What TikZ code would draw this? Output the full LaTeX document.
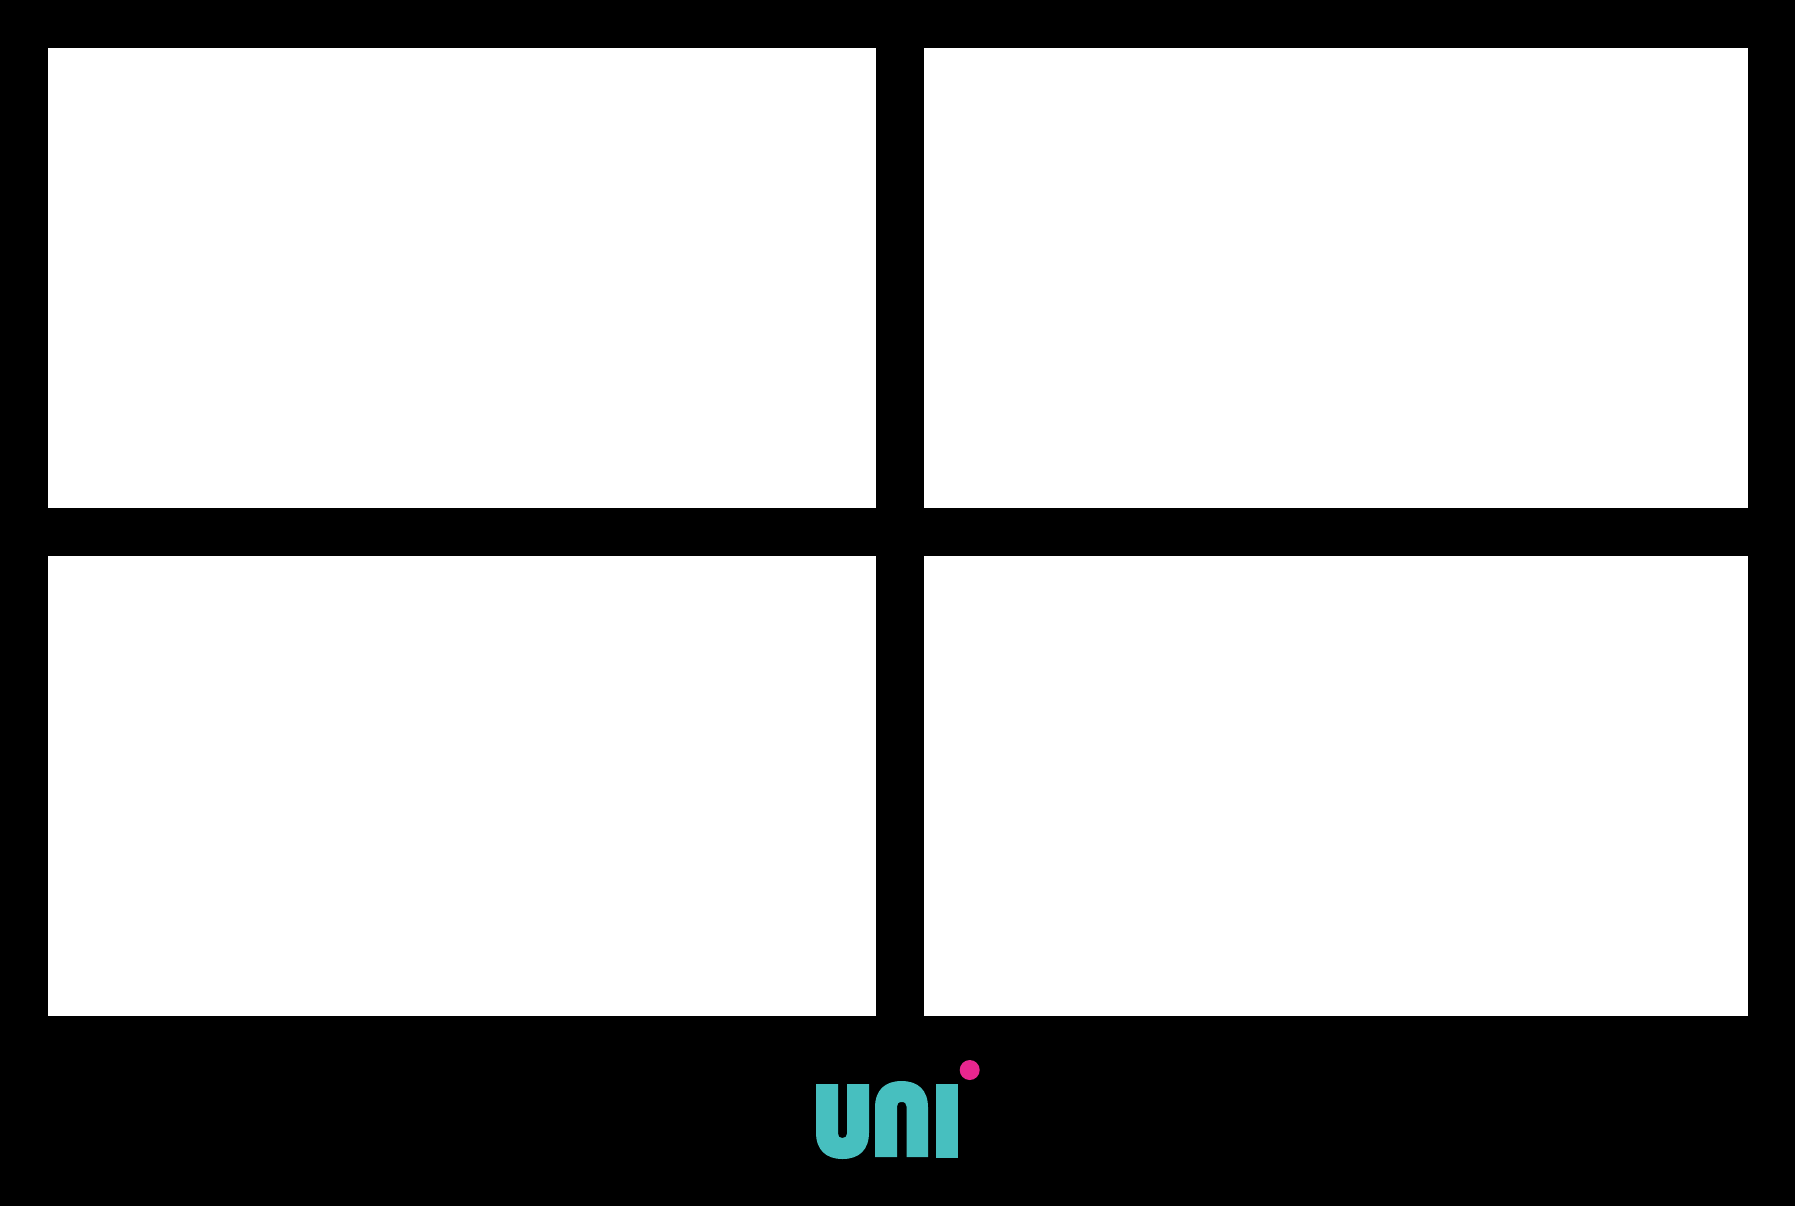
\documentclass[tikz,border=0pt]{standalone}
\definecolor{uniteal}{HTML}{47BFBF}
\definecolor{unipink}{HTML}{E9268F}
\tikzset{panel/.style={fill=white,draw=none},logo/.style={fill=uniteal,draw=none}}
\begin{document}
\begin{tikzpicture}[x=1pt,y=-1pt]
\useasboundingbox (0,0) rectangle (1795,1205);
\fill[black] (-3,-3) rectangle (1798,1208);
\fill[panel] (48,48) rectangle (876,508);
\fill[panel] (924,48) rectangle (1748,508);
\fill[panel] (48,556) rectangle (876,1016);
\fill[panel] (924,556) rectangle (1748,1016);
% u
\fill[logo] (816,1084) -- (838,1084) -- (838,1133.5)
  .. controls (838,1136.5) and (839.5,1138) .. (842.4,1138)
  .. controls (845.3,1138) and (847,1136.5) .. (847,1133.5)
  -- (847,1084) -- (869,1084) -- (869,1132.5)
  .. controls (869,1150) and (859,1159) .. (842.5,1159)
  .. controls (826,1159) and (816,1150) .. (816,1132.5) -- cycle;
% n
\fill[logo] (875,1157) -- (875,1107.5)
  .. controls (875,1090) and (885,1081) .. (901.5,1081)
  .. controls (918,1081) and (928,1090) .. (928,1107.5)
  -- (928,1157) -- (906.5,1157) -- (906.5,1106.5)
  .. controls (906.5,1103.5) and (905,1102) .. (901.8,1102)
  .. controls (898.6,1102) and (897,1103.5) .. (897,1106.5)
  -- (897,1157) -- cycle;
% i
\fill[logo] (936,1084) rectangle (958,1158);
% dot
\fill[unipink] (969.7,1070) circle[radius=10];
\end{tikzpicture}
\end{document}
